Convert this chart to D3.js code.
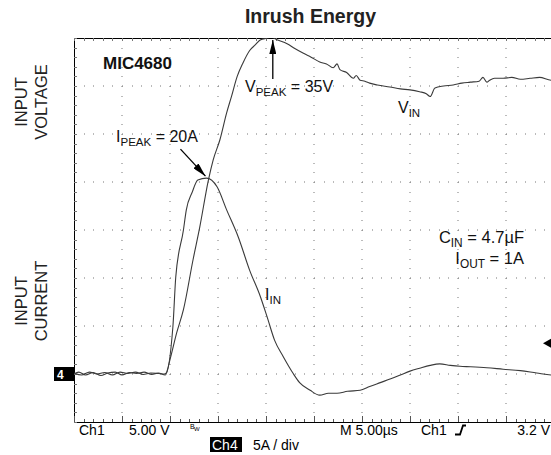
<!DOCTYPE html>
<html>
<head>
<meta charset="utf-8">
<script src="https://cdn.jsdelivr.net/npm/d3@7"></script>
<style>
  body { margin: 0; background: #fff; }
  text { font-family: "Liberation Sans", Arial, sans-serif; }
</style>
</head>
<body>
<div id="chart"></div>
<script>
// scope traces: time in µs (5 µs/div), Ch1 voltage in V (5 V/div), Ch4 current in A (5 A/div)
const vinTime = [0, 0.8, 1.6, 2.4, 3.2, 4.0, 4.8, 5.6, 6.4, 7.2, 8.0, 8.8, 9.4, 9.6, 10.0, 10.7, 11.4, 12.4, 13.1, 14.0,
  14.5, 15.2, 15.9, 16.4, 17.0, 17.6, 18.3, 18.9, 19.4, 20.2, 20.5, 21.2, 22.2, 23.0, 23.9, 24.7, 25.6, 26.3, 27.0, 27.4,
  27.7, 28.4, 29.1, 29.4, 29.8, 30.3, 30.8, 31.6, 32.9, 34.0, 35.0, 36.0, 36.7, 37.1, 37.6, 38.5, 39.5, 40.4, 41.3, 42.2,
  42.6, 43.0, 43.3, 43.8, 44.7, 45.6, 46.5, 47.5, 48.5, 49.7, 50];
const vinVolts = [0.1, -0.1, 0.2, 0, 0.15, -0.1, 0.2, 0.05, 0.2, -0.05, 0.1, 0.05, 0, 0.1, 1.5, 4.3, 6.7, 11.9, 15.3, 20.2,
  22.3, 24.4, 27.2, 28.9, 31.0, 32.4, 33.7, 34.3, 34.8, 35.0, 35.1, 34.8, 34.4, 33.9, 33.4, 33.0, 32.5, 32.3, 31.9, 32.3,
  31.7, 31.4, 30.8, 31.1, 30.6, 30.5, 30.3, 30.1, 29.9, 29.7, 29.6, 29.4, 29.2, 28.9, 29.8, 30.0, 30.1, 30.3, 30.4, 30.5,
  30.9, 30.4, 30.6, 30.8, 30.8, 30.9, 30.7, 30.8, 30.9, 30.6, 30.6];

const iinTime = [0, 0.5, 1.2, 2.0, 2.8, 3.5, 4.3, 5.0, 5.8, 6.5, 7.3, 8.1, 8.8, 9.5, 10.3, 10.6, 11.4, 11.7, 12.3, 12.9,
  13.8, 14.9, 15.9, 17.1, 18.3, 19.4, 20.1, 20.9, 21.8, 22.8, 23.5, 24.6, 25.6, 26.5, 27.4, 28.5, 29.8, 30.8, 31.9, 33.0,
  34.0, 35.0, 36.0, 37.1, 38.1, 39.2, 40.2, 41.3, 43.0, 44.7, 46.5, 48.2, 49.7, 50];
const iinAmps = [0, 0.2, -0.1, 0.15, -0.15, 0.1, 0.2, -0.1, 0.15, 0.05, 0.2, -0.05, 0.1, -0.1, 4.9, 10.1, 15.0, 17.1, 18.9, 20.2,
  20.4, 19.5, 17.1, 14.3, 10.8, 8.1, 6.0, 3.5, 1.8, 0.1, -0.9, -1.7, -2.2, -2.0, -2.0, -1.8, -1.7, -1.3, -0.9, -0.5,
  -0.1, 0.3, 0.6, 0.9, 1.05, 0.9, 0.8, 0.75, 0.65, 0.5, 0.35, 0.1, -0.1, -0.1];

const timeDomain = [0, 50];
const levelDomain = [-5, 35];
const triggerLevel = 3.2;

const width = 551, height = 455;
const margin = { top: 38, right: -3, bottom: 33, left: 74 };

const svg = d3.select("#chart")
  .append("svg")
  .attr("width", width)
  .attr("height", height)
  .style("background-color", "#FFFFFF");

const x = d3.scaleLinear().domain(timeDomain).range([margin.left, width - margin.right]);
const y = d3.scaleLinear().domain(levelDomain).range([height - margin.bottom, margin.top]);

const majorX = x.ticks(10), minorX = x.ticks(50);
const majorY = y.ticks(8), minorY = y.ticks(40);

// dotted graticule
const grid = svg.append("g").attr("fill", "#777");
majorX.filter(t => t > timeDomain[0]).forEach(t => {
  grid.selectAll(null).data(minorY).enter().append("rect")
    .attr("x", Math.round(x(t)) - 0.5).attr("y", d => Math.round(y(d)))
    .attr("width", 1).attr("height", 1);
});
majorY.filter(v => v > levelDomain[0] && v < levelDomain[1]).forEach(v => {
  grid.selectAll(null).data(minorX).enter().append("rect")
    .attr("x", d => Math.round(x(d))).attr("y", Math.round(y(v)) - 0.5)
    .attr("width", 1).attr("height", 1);
});

// border with ticks
const border = svg.append("g").attr("stroke", "#000").attr("stroke-width", 1);
border.append("line")
  .attr("x1", x(0) + 0.5).attr("x2", x(0) + 0.5)
  .attr("y1", y(levelDomain[1])).attr("y2", y(levelDomain[0]));
border.append("line")
  .attr("x1", x(0)).attr("x2", width)
  .attr("y1", y(levelDomain[1]) + 0.5).attr("y2", y(levelDomain[1]) + 0.5);
border.append("line")
  .attr("x1", x(0)).attr("x2", width)
  .attr("y1", y(levelDomain[0]) + 0.5).attr("y2", y(levelDomain[0]) + 0.5);

border.selectAll(".tt").data(minorX).enter().append("line")
  .attr("x1", d => Math.round(x(d)) + 0.5).attr("x2", d => Math.round(x(d)) + 0.5)
  .attr("y1", y(levelDomain[1])).attr("y2", y(levelDomain[1]) + 3)
  .attr("stroke", "#777");
border.selectAll(".bt").data(minorX).enter().append("line")
  .attr("x1", d => Math.round(x(d)) + 0.5).attr("x2", d => Math.round(x(d)) + 0.5)
  .attr("y1", y(levelDomain[0])).attr("y2", d => y(levelDomain[0]) - (d % 5 === 0 ? 6 : 3))
  .attr("stroke", "#555");
border.selectAll(".lt").data(minorY).enter().append("line")
  .attr("x1", x(0)).attr("x2", x(0) + 3)
  .attr("y1", d => Math.round(y(d)) + 0.5).attr("y2", d => Math.round(y(d)) + 0.5)
  .attr("stroke", "#777");

// traces
const vin = vinTime.map((t, i) => ({ t, v: vinVolts[i] }));
const iin = iinTime.map((t, i) => ({ t, v: iinAmps[i] }));

const line = d3.line()
  .x(d => x(d.t))
  .y(d => y(d.v))
  .curve(d3.curveMonotoneX);

const defs = svg.append("defs");
defs.append("clipPath").attr("id", "plot")
  .append("rect")
  .attr("x", x(0)).attr("y", y(levelDomain[1]))
  .attr("width", width - x(0)).attr("height", y(levelDomain[0]) - y(levelDomain[1]));

const traces = svg.append("g").attr("clip-path", "url(#plot)");
[iin, vin].forEach(data => {
  traces.append("path")
    .datum(data)
    .attr("d", line)
    .attr("fill", "none")
    .attr("stroke", "#3a3a3a")
    .attr("stroke-width", 1.1);
});

// markers: channel ground and trigger level
const gnd = y(0);
svg.append("rect")
  .attr("x", 54).attr("y", gnd - 7)
  .attr("width", x(0) - 54).attr("height", 14)
  .attr("fill", "#000");
svg.append("text")
  .attr("x", 57).attr("y", gnd + 5)
  .attr("fill", "#fff")
  .style("font-size", "12px")
  .style("font-weight", "bold")
  .text("4");
svg.append("path")
  .attr("d", `M${width - 8},${y(triggerLevel)} L${width},${y(triggerLevel) - 4.5} L${width},${y(triggerLevel) + 4.5} Z`)
  .attr("fill", "#000");

// title and side labels
svg.append("text")
  .attr("x", (x(0) + width) / 2 - 2)
  .attr("y", 23)
  .attr("text-anchor", "middle")
  .style("font-size", "19.5px")
  .style("font-weight", "bold")
  .attr("fill", "#222")
  .text("Inrush Energy");

const sideLabels = [
  { lines: ["INPUT", "VOLTAGE"], cy: 102 },
  { lines: ["INPUT", "CURRENT"], cy: 301 }
];
sideLabels.forEach(l => {
  l.lines.forEach((s, i) => {
    svg.append("text")
      .attr("transform", `translate(${27 + i * 20},${l.cy}) rotate(-90)`)
      .attr("text-anchor", "middle")
      .style("font-size", "16.5px")
      .attr("fill", "#222")
      .text(s);
  });
});

svg.append("text")
  .attr("x", 103).attr("y", 69)
  .style("font-size", "17px")
  .style("font-weight", "bold")
  .attr("fill", "#111")
  .text("MIC4680");

// subscripted labels
function subLabel(px, py, main, sub, rest, size, anchor) {
  const t = svg.append("text")
    .attr("x", px).attr("y", py)
    .attr("text-anchor", anchor || "start")
    .attr("fill", "#111")
    .style("font-size", size + "px");
  t.append("tspan").text(main);
  t.append("tspan").attr("dy", 4).style("font-size", (size * 0.72) + "px").text(sub);
  if (rest) t.append("tspan").attr("dy", -4).text(rest);
  return t;
}

subLabel(116, 142, "I", "PEAK", " = 20A", 16);
subLabel(245, 92, "V", "PEAK", " = 35V", 16);
subLabel(398, 112.5, "V", "IN", null, 16);
subLabel(265, 299.5, "I", "IN", null, 16);
subLabel(524, 243, "C", "IN", " = 4.7\u00b5F", 16.5, "end");
subLabel(524, 264, "I", "OUT", " = 1A", 16.5, "end");

// arrows to the peaks
const iPeak = iin[d3.maxIndex(iin, d => d.v)];
const vPeak = vin[d3.maxIndex(vin, d => d.v)];

defs.append("marker")
  .attr("id", "head")
  .attr("viewBox", "0 0 10 10")
  .attr("preserveAspectRatio", "none")
  .attr("refX", 10).attr("refY", 5)
  .attr("markerWidth", 14).attr("markerHeight", 7)
  .attr("markerUnits", "userSpaceOnUse")
  .attr("orient", "auto")
  .append("path")
  .attr("d", "M0,0 L10,5 L0,10 Z")
  .attr("fill", "#000");

svg.append("line")
  .attr("x1", x(iPeak.t) - 26).attr("y1", y(iPeak.v) - 29)
  .attr("x2", x(iPeak.t) - 1).attr("y2", y(iPeak.v) - 2)
  .attr("stroke", "#000").attr("stroke-width", 1.3)
  .attr("marker-end", "url(#head)");
svg.append("line")
  .attr("x1", x(vPeak.t) + 2).attr("y1", 79)
  .attr("x2", x(vPeak.t) + 2).attr("y2", y(levelDomain[1]) + 2)
  .attr("stroke", "#000").attr("stroke-width", 1.3)
  .attr("marker-end", "url(#head)");

// scope readout
const readout = svg.append("g")
  .attr("fill", "#000")
  .style("font-size", "14px");
readout.append("text").attr("x", 79).attr("y", 435).text("Ch1");
readout.append("text").attr("x", 129).attr("y", 435).text("5.00 V");
readout.append("text").attr("x", 190).attr("y", 429).style("font-size", "7px").text("B");
readout.append("text").attr("x", 194).attr("y", 431).style("font-size", "6px").text("W");
readout.append("text").attr("x", 340).attr("y", 435).text("M 5.00\u00b5s");
readout.append("text").attr("x", 421).attr("y", 435).text("Ch1");
readout.append("text").attr("x", 550).attr("y", 435).attr("text-anchor", "end").text("3.2 V");
readout.append("path")
  .attr("d", "M455,434.5 H460 L463,425.5 H466")
  .attr("fill", "none").attr("stroke", "#000").attr("stroke-width", 1.8);
readout.append("rect")
  .attr("x", 210).attr("y", 437).attr("width", 32).attr("height", 15);
readout.append("text").attr("x", 212).attr("y", 450).attr("fill", "#fff").text("Ch4");
readout.append("text").attr("x", 253).attr("y", 450).text("5A / div");
</script>
</body>
</html>
